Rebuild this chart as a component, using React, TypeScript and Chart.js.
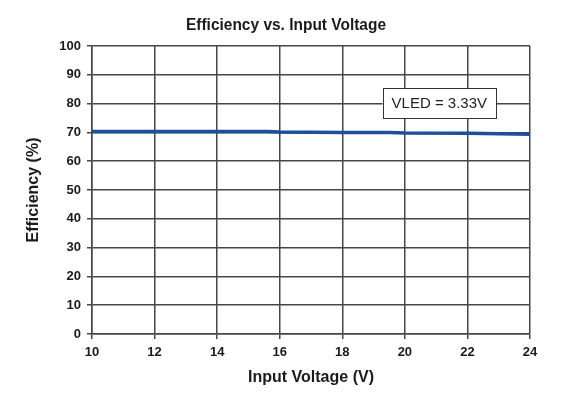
import React, { useEffect, useRef } from "react";
import { Chart, registerables } from "chart.js";

Chart.register(...registerables);

const voltages = [10, 12, 14, 15.6, 16, 18, 19.5, 20, 22, 24];
const efficiency = [70.3, 70.3, 70.3, 70.3, 70.1, 70.0, 70.0, 69.8, 69.7, 69.4];
const chartTitle = "Efficiency vs. Input Voltage";
const xTitle = "Input Voltage (V)";
const yTitle = "Efficiency (%)";
const annotationText = "VLED = 3.33V";
const annotationPos = { x: 21.1, y: 80.2 };

const FONT = "'Liberation Sans', Arial, sans-serif";
const GRID = "#464646";

const titlePlugin = {
  id: "topTitle",
  afterDraw(chart: any) {
    const { ctx } = chart;
    ctx.save();
    ctx.font = `bold 17px ${FONT}`;
    ctx.fillStyle = "#1a1a1a";
    ctx.textAlign = "center";
    ctx.textBaseline = "alphabetic";
    ctx.translate(286, 30);
    ctx.scale(0.91, 1);
    ctx.fillText(chartTitle, 0, 0);
    ctx.restore();
  },
};

const annotationPlugin = {
  id: "vledLabel",
  afterDatasetsDraw(chart: any) {
    const { ctx, scales } = chart;
    const cx = scales.x.getPixelForValue(annotationPos.x);
    const cy = scales.y.getPixelForValue(annotationPos.y);
    ctx.save();
    ctx.font = `15px ${FONT}`;
    const w = ctx.measureText(annotationText).width + 18;
    const h = 30;
    ctx.fillStyle = "#ffffff";
    ctx.fillRect(cx - w / 2, cy - h / 2, w, h);
    ctx.strokeStyle = "#333333";
    ctx.lineWidth = 1;
    ctx.strokeRect(Math.round(cx - w / 2) + 0.5, Math.round(cy - h / 2) + 0.5, Math.round(w), h);
    ctx.fillStyle = "#222222";
    ctx.textAlign = "center";
    ctx.textBaseline = "middle";
    ctx.fillText(annotationText, cx, cy + 1);
    ctx.restore();
  },
};

export default function App() {
  const ref = useRef<HTMLCanvasElement | null>(null);
  useEffect(() => {
    if (!ref.current) return;
    const chart = new Chart(ref.current, {
      type: "line",
      data: {
        datasets: [
          {
            data: voltages.map((v, i) => ({ x: v, y: efficiency[i] })),
            borderColor: "#1d4f9b",
            borderWidth: 3.5,
            pointRadius: 0,
            tension: 0,
            fill: false,
          },
        ],
      },
      options: {
        animation: false,
        responsive: false,
        layout: { padding: { left: 0, right: 34, top: 46, bottom: 0 } },
        plugins: {
          legend: { display: false },
          tooltip: { enabled: false },
          title: { display: false },
        },
        scales: {
          x: {
            type: "linear",
            min: 10,
            max: 24,
            afterFit: (s: any) => {
              s.height = 61;
            },
            ticks: {
              stepSize: 2,
              color: "#1a1a1a",
              padding: 6,
              font: { family: FONT, size: 13, weight: "bold" },
              maxRotation: 0,
            },
            grid: { color: GRID, lineWidth: 1.5, tickLength: 5, tickColor: GRID },
            border: { color: GRID, width: 1.5 },
            title: {
              display: true,
              text: xTitle,
              color: "#1a1a1a",
              font: { family: FONT, size: 16, weight: "bold" },
              padding: { top: 0, bottom: 7.4 },
            },
          },
          y: {
            min: 0,
            max: 100,
            afterFit: (s: any) => {
              s.width = 92;
            },
            ticks: {
              stepSize: 10,
              color: "#1a1a1a",
              padding: 6,
              font: { family: FONT, size: 13, weight: "bold" },
            },
            grid: { color: GRID, lineWidth: 1.5, tickLength: 5, tickColor: GRID },
            border: { color: GRID, width: 1.5 },
            title: {
              display: true,
              text: yTitle,
              color: "#1a1a1a",
              font: { family: FONT, size: 16, weight: "bold" },
              padding: { top: 24.4, bottom: 0 },
            },
          },
        },
      },
      plugins: [annotationPlugin, titlePlugin],
    });
    return () => chart.destroy();
  }, []);
  return (
    <div style={{ position: "fixed", left: 0, top: 0, width: 564, height: 395, background: "#fff" }}>
      <canvas ref={ref} width={564} height={395} />
    </div>
  );
}
